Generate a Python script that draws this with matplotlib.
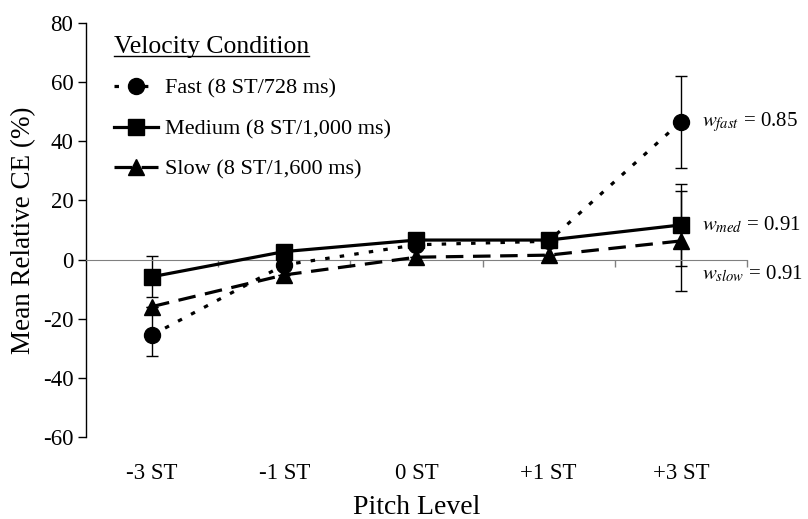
import matplotlib
matplotlib.use("Agg")
import matplotlib.pyplot as plt
from matplotlib.lines import Line2D
import numpy as np

plt.rcParams['font.family'] = ['Liberation Serif', 'DejaVu Serif']
plt.rcParams['mathtext.fontset'] = 'stix'
plt.rcParams['axes.unicode_minus'] = False

# data
levels = ['-3 ST', '-1 ST', '0 ST', '+1 ST', '+3 ST']
fast = [-25.5, -1.8, 5.0, 6.2, 46.6]
fast_err = [7.1, 0, 0, 0, 15.5]
medium = [-5.8, 2.7, 6.6, 6.6, 11.7]
medium_err = [7.0, 0, 0, 0, 13.8]
slow = [-15.9, -5.2, 0.8, 1.5, 6.3]
slow_err = [0, 0, 0, 0, 17.0]
labels = ['Fast (8 ST/728 ms)', 'Medium (8 ST/1,000 ms)', 'Slow (8 ST/1,600 ms)']
weights = [r'$w_{fast}$ = 0.85', r'$w_{med}$ = 0.91', r'$w_{slow}$ = 0.91']

fig = plt.figure(figsize=(8.08, 5.19), dpi=100)
ax = fig.add_axes([0.1064, 0.158, 0.818, 0.7977])
x = np.arange(len(levels))

styles = [
    dict(ls=(0, (1.4, 3.2)), marker='o', ms=11.5),
    dict(ls='-', marker='s', ms=12),
    dict(ls=(0, (5.5, 3)), marker='^', ms=11.5),
]
handles = []
for y, e, st, lab in zip([fast, medium, slow], [fast_err, medium_err, slow_err], styles, labels):
    ax.errorbar(x, y, yerr=e, fmt='none', ecolor='black', elinewidth=1, capsize=4, capthick=1, zorder=2)
    h, = ax.plot(x, y, color='black', lw=2.3, ls=st['ls'], marker=st['marker'],
                 ms=st['ms'], mfc='black', mec='black', label=lab, zorder=3)
    handles.append(h)

ax.set_xlim(-0.5, 4.5)
ax.set_ylim(-60, 80)
ax.set_yticks(np.arange(-60, 81, 20))
ax.tick_params(axis='y', direction='out', length=6, width=1, labelsize=16.5, pad=3)

# zero line with category separators
for s in ['top', 'right']:
    ax.spines[s].set_visible(False)
ax.spines['bottom'].set_position(('data', 0))
ax.spines['bottom'].set_color('#808080')
ax.spines['left'].set_linewidth(1)
ax.set_xticks([])
ax.set_xticks(np.arange(0.5, 5.0, 1.0), minor=True)
ax.tick_params(axis='x', which='minor', direction='out', length=5, color='#808080', width=1)

sec = ax.secondary_xaxis(0.0)
sec.set_xticks(x)
sec.set_xticklabels(levels)
sec.tick_params(length=0, pad=19, labelsize=16.5)
sec.spines['bottom'].set_visible(False)
sec.set_xlabel('Pitch Level', fontsize=20, labelpad=8)

ax.set_ylabel('Mean Relative CE (%)', fontsize=19.5, labelpad=5)

# weight annotations
wy = [fast[-1], medium[-1], slow[-1] - 11]
for yy, txt in zip(wy, weights):
    ax.annotate(txt, xy=(x[-1], yy), xytext=(15, 0), textcoords='offset points',
                va='center', ha='left', fontsize=15, annotation_clip=False)

leg = ax.legend(handles=handles, title='Velocity Condition', loc='upper left',
                bbox_to_anchor=(0.025, 0.995), frameon=False, fontsize=16,
                title_fontsize=18.5, handlelength=2.0, handletextpad=0.3,
                labelspacing=0.9, borderpad=0, alignment='left')

fig.canvas.draw()
bb = leg.get_title().get_window_extent()
fig.add_artist(Line2D([bb.x0 / fig.bbox.width, bb.x1 / fig.bbox.width],
                      [(bb.y0 + 2) / fig.bbox.height] * 2, color='black', lw=1))

fig.savefig('out.png', dpi=100)
